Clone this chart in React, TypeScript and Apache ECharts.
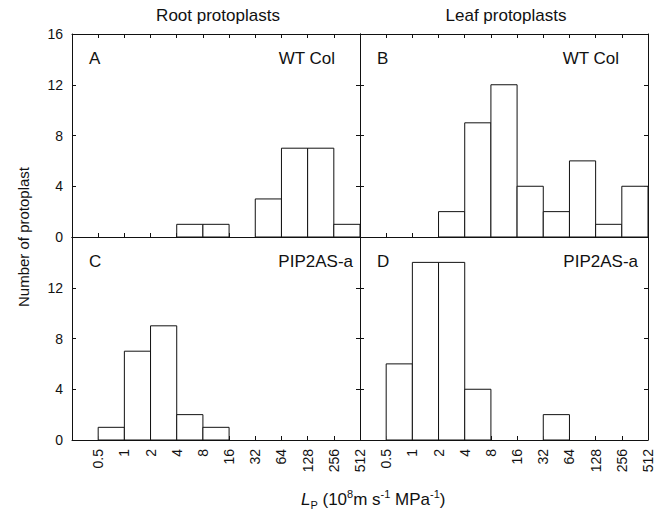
import React, { useEffect, useRef } from "react";
import * as echarts from "echarts";

const xTickLabels = ["", "0.5", "1", "2", "4", "8", "16", "32", "64", "128", "256", "512"];
const binIndex = [0, 1, 2, 3, 4, 5, 6, 7, 8, 9, 10];
const rootWT = [0, 0, 0, 0, 1, 1, 0, 3, 7, 7, 1];
const leafWT = [0, 0, 0, 2, 9, 12, 4, 2, 6, 1, 4];
const rootPIP = [0, 1, 7, 9, 2, 1, 0, 0, 0, 0, 0];
const leafPIP = [0, 6, 14, 14, 4, 0, 0, 2, 0, 0, 0];
const panelLetters = ["A", "B", "C", "D"];
const panelLines = ["WT Col", "WT Col", "PIP2AS-a", "PIP2AS-a"];
const columnTitles = ["Root protoplasts", "Leaf protoplasts"];
const yMax = 16;
const yStep = 4;

const FONT = "Liberation Sans, Arial, Helvetica, sans-serif";

export default function App() {
  const ref = useRef<HTMLDivElement>(null);
  useEffect(() => {
    if (!ref.current) return;
    const chart = echarts.init(ref.current, null, { renderer: "svg" });
    const panels = [rootWT, leafWT, rootPIP, leafPIP];
    const gridPos = [
      { left: 72, top: 34 },
      { left: 360, top: 34 },
      { left: 72, top: 237 },
      { left: 360, top: 237 },
    ];
    const labelRight = [335, 619, 353, 638];
    const grids = gridPos.map((p) => ({ left: p.left, top: p.top, width: 288, height: 203 }));
    const lineStyle = { color: "#111", width: 1 };
    const xAxes: any[] = [];
    const yAxes: any[] = [];
    gridPos.forEach((_, g) => {
      const bottomRow = g >= 2;
      xAxes.push({
        gridIndex: g,
        type: "value",
        min: 0,
        max: 11,
        interval: 1,
        position: "bottom",
        axisLine: { show: true, onZero: false, lineStyle },
        axisTick: { show: true, inside: true, length: 4, lineStyle },
        splitLine: { show: false },
        axisLabel: {
          show: bottomRow,
          rotate: 90,
          margin: 9,
          fontSize: 14,
          fontFamily: FONT,
          color: "#111",
          formatter: (v: number) => xTickLabels[Math.round(v)] ?? "",
        },
      });
      xAxes.push({
        gridIndex: g,
        type: "value",
        min: 0,
        max: 11,
        interval: 1,
        position: "top",
        axisLine: { show: true, onZero: false, lineStyle },
        axisTick: { show: !bottomRow, inside: true, length: 4, lineStyle },
        splitLine: { show: false },
        axisLabel: { show: false },
      });
      yAxes.push({
        gridIndex: g,
        type: "value",
        min: 0,
        max: yMax,
        interval: yStep,
        position: "left",
        axisLine: { show: true, onZero: false, lineStyle },
        axisTick: { show: true, inside: true, length: 4, lineStyle },
        splitLine: { show: false },
        axisLabel: {
          show: g % 2 === 0,
          margin: 9,
          fontSize: 14,
          fontFamily: FONT,
          color: "#111",
          formatter: (v: number) => (bottomRow && v === yMax ? "" : String(v)),
        },
      });
      yAxes.push({
        gridIndex: g,
        type: "value",
        min: 0,
        max: yMax,
        interval: yStep,
        position: "right",
        axisLine: { show: true, onZero: false, lineStyle },
        axisTick: { show: true, inside: true, length: 4, lineStyle },
        splitLine: { show: false },
        axisLabel: { show: false },
      });
    });

    const series = panels.map((vals, g) => ({
      type: "custom",
      xAxisIndex: 2 * g,
      yAxisIndex: 2 * g,
      data: binIndex.map((i) => [i, vals[i]]),
      renderItem: (params: any, api: any) => {
        const i = api.value(0);
        const v = api.value(1);
        if (!v) return null;
        const p0 = api.coord([i, v]);
        const p1 = api.coord([i + 1, 0]);
        return {
          type: "rect",
          shape: { x: p0[0], y: p0[1], width: p1[0] - p0[0], height: p1[1] - p0[1] },
          style: { fill: "#fff", stroke: "#111", lineWidth: 1 },
        };
      },
      z: 1,
    }));

    const graphics: any[] = [];
    const titleX = [218, 506];
    columnTitles.forEach((t, c) => {
      graphics.push({
        type: "text",
        x: titleX[c],
        y: 15,
        style: { text: t, font: `17px ${FONT}`, fill: "#111", textAlign: "center", textVerticalAlign: "middle" },
      });
    });
    gridPos.forEach((p, g) => {
      graphics.push({
        type: "text",
        x: p.left + 17,
        y: p.top + 24,
        style: { text: panelLetters[g], font: `17px ${FONT}`, fill: "#111", textAlign: "left", textVerticalAlign: "middle" },
      });
      graphics.push({
        type: "text",
        x: labelRight[g],
        y: p.top + 24,
        style: { text: panelLines[g], font: `17px ${FONT}`, fill: "#111", textAlign: "right", textVerticalAlign: "middle" },
      });
    });
    graphics.push({
      type: "text",
      x: 23,
      y: 237,
      rotation: Math.PI / 2,
      style: { text: "Number of protoplast", font: `15px ${FONT}`, fill: "#111", textAlign: "center", textVerticalAlign: "middle" },
    });
    graphics.push({
      type: "text",
      x: 301,
      y: 499,
      style: {
        text: "{i|L}{sub|P}{n| (10}{sup|8}{n|m s}{sup|-1}{n| MPa}{sup|-1}{n|)}",
        textVerticalAlign: "middle",
        rich: {
          n: { fontSize: 17, fontFamily: FONT, fill: "#111", lineHeight: 22, verticalAlign: "middle" },
          i: { fontSize: 17, fontFamily: FONT, fontStyle: "italic", fill: "#111", lineHeight: 22, verticalAlign: "middle" },
          sub: { fontSize: 11, fontFamily: FONT, fill: "#111", lineHeight: 22, verticalAlign: "bottom", padding: [7, 0, 0, 0] },
          sup: { fontSize: 11, fontFamily: FONT, fill: "#111", lineHeight: 22, verticalAlign: "top", padding: [0, 0, 7, 0] },
        },
      },
    });

    chart.setOption({
      animation: false,
      backgroundColor: "#fff",
      grid: grids,
      xAxis: xAxes,
      yAxis: yAxes,
      series,
      graphic: graphics,
    });
    return () => chart.dispose();
  }, []);
  return <div ref={ref} style={{ width: 671, height: 513, position: "absolute", left: 0, top: 0 }} />;
}
